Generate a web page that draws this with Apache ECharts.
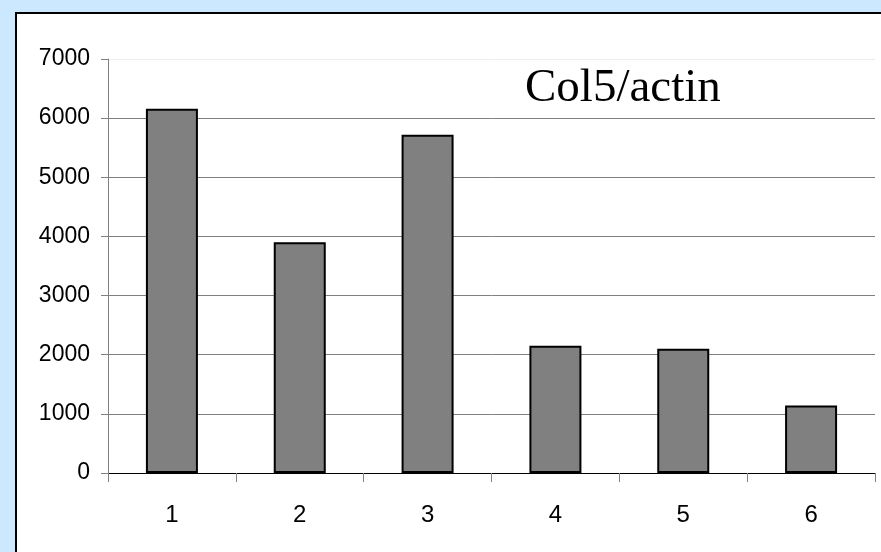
<!DOCTYPE html>
<html>
<head>
<meta charset="utf-8">
<script src="https://cdn.jsdelivr.net/npm/echarts@6/dist/echarts.min.js"></script>
<style>
  html, body { margin: 0; padding: 0; background: #cce8ff; }
  #chart { width: 881px; height: 552px; }
</style>
</head>
<body>
<div id="chart"></div>
<script>
// Col5 expression relative to actin, six samples
const categories = ['1', '2', '3', '4', '5', '6'];
const col5Values = [6160, 3900, 5720, 2150, 2100, 1140];
const yTicks = { min: 0, max: 7000, interval: 1000 };
const chartTitle = 'Col5/actin';

const chart = echarts.init(document.getElementById('chart'), null, { renderer: 'canvas' });

chart.setOption({
  backgroundColor: '#cce8ff',
  animation: false,
  graphic: [{
    type: 'rect',
    z: -10,
    silent: true,
    shape: { x: 16, y: 13, width: 900, height: 600 },
    style: { fill: '#ffffff', stroke: '#000000', lineWidth: 2 }
  }],
  title: {
    text: chartTitle,
    left: 520,
    top: 60,
    textStyle: {
      fontFamily: '"Liberation Serif", "Times New Roman", serif',
      fontSize: 47,
      fontWeight: 'normal',
      color: '#000000'
    }
  },
  grid: { left: 108, top: 59, right: 6, bottom: 79, containLabel: false },
  xAxis: {
    type: 'category',
    data: categories,
    axisLine: { lineStyle: { color: '#000000', width: 1 } },
    axisTick: { show: true, length: 9, lineStyle: { color: '#808080' } },
    axisLabel: {
      margin: 30,
      fontFamily: '"Liberation Sans", Arial, sans-serif',
      fontSize: 24,
      color: '#000000'
    }
  },
  yAxis: {
    type: 'value',
    min: yTicks.min,
    max: yTicks.max,
    interval: yTicks.interval,
    axisLine: { show: true, lineStyle: { color: '#808080', width: 1 } },
    axisTick: { show: true, length: 7, lineStyle: { color: '#808080' } },
    axisLabel: {
      margin: 18,
      formatter: (v) => String(v),
      fontFamily: '"Liberation Sans", Arial, sans-serif',
      fontSize: 23,
      color: '#000000'
    },
    splitLine: {
      show: true,
      lineStyle: {
        color: ['#808080', '#808080', '#808080', '#808080', '#808080', '#808080', '#808080', '#ececec'],
        width: 1
      }
    }
  },
  series: [{
    type: 'bar',
    data: col5Values,
    barWidth: 52,
    itemStyle: { color: '#808080', borderColor: '#000000', borderWidth: 2 }
  }]
});
</script>
</body>
</html>
